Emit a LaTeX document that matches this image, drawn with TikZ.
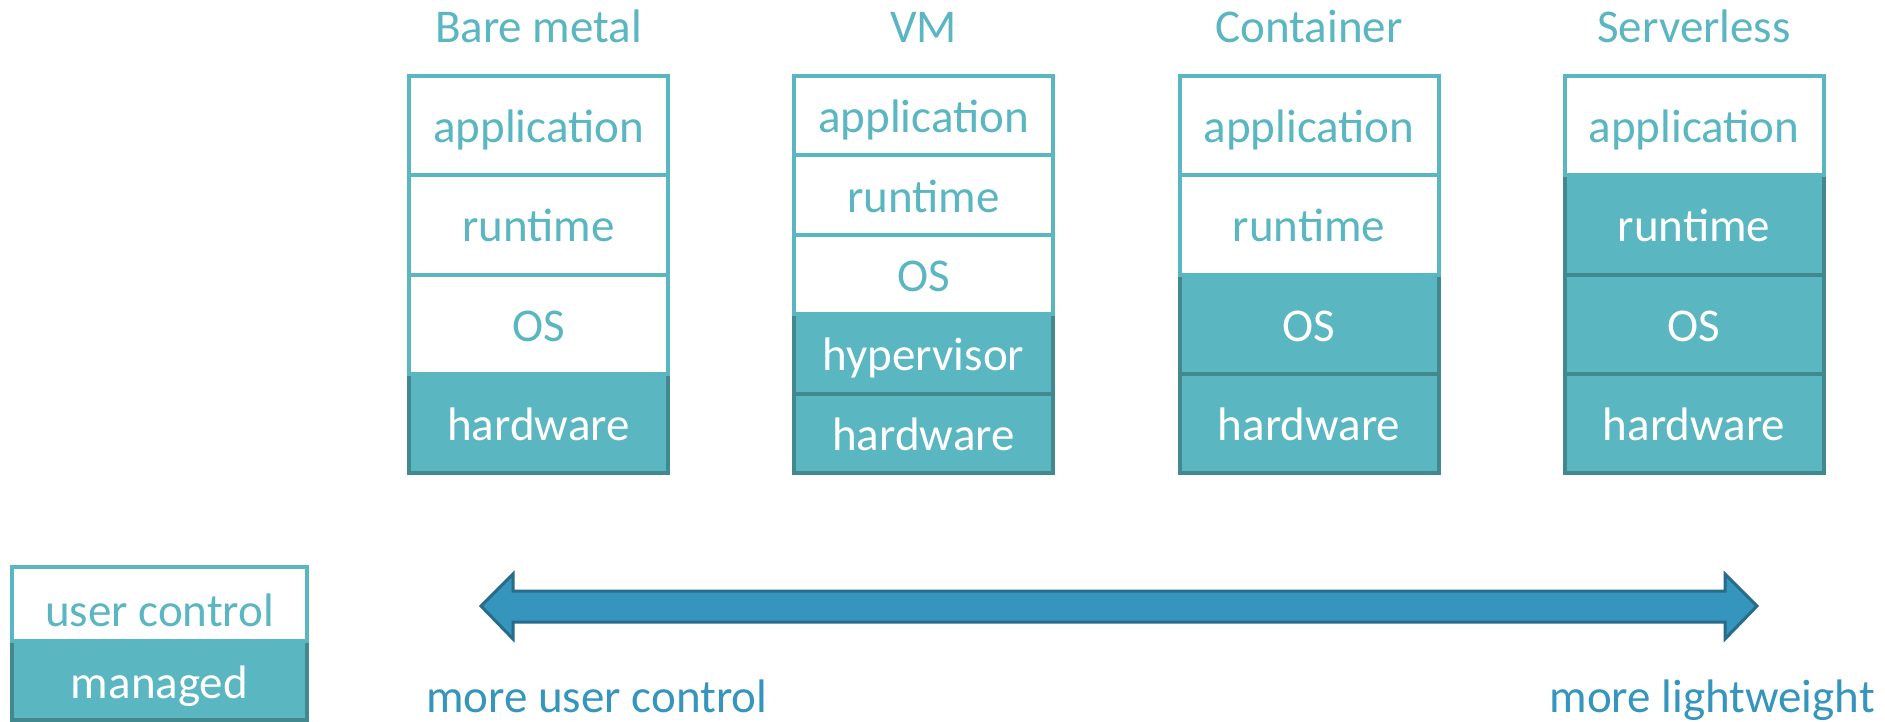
\documentclass[tikz,border=0pt]{standalone}
\usepackage{fontspec}
\setmainfont{Carlito}
\definecolor{stackteal}{HTML}{5AB6C1}
\definecolor{stackdark}{HTML}{41888F}
\definecolor{arrowfill}{HTML}{3595BC}
\definecolor{arrowedge}{HTML}{276C8A}
\tikzset{
  layer/.style={rectangle, minimum width=259pt, inner sep=0pt, outer sep=0pt,
    line width=4pt, text height=42pt, text depth=8pt,
    font=\fontsize{47}{56}\selectfont},
  userbox/.style={layer, draw=stackteal, fill=white, text=stackteal},
  mgdbox/.style={layer, draw=stackdark, fill=stackteal, text=white},
  four/.style={minimum height=99.25pt},
  five/.style={minimum height=79.4pt},
  title/.style={anchor=base, inner sep=0pt, text=stackteal,
    font=\fontsize{47}{56}\selectfont},
  axislabel/.style={inner sep=0pt, text=arrowfill,
    font=\fontsize{47}{56}\selectfont}
}
\begin{document}
\begin{tikzpicture}[x=1pt,y=-1pt]
\useasboundingbox[fill=white] (0,0) rectangle (1885,722);

% column titles
\node[title] (t-bm) at (538.5,43) {Bare metal};
\node[title] (t-vm) at (923.5,43) {VM};
\node[title] (t-ct) at (1309,43) {Container};
\node[title] (t-sl) at (1694,43) {Serverless};

% Bare metal stack (drawn bottom-up so upper borders sit on top)
\node[mgdbox, four]  (bm-hw)  at (538.5,423.4) {hardware};
\node[userbox, four] (bm-os)  at (538.5,324.1) {OS};
\node[userbox, four] (bm-rt)  at (538.5,224.9) {runtime};
\node[userbox, four] (bm-app) at (538.5,125.6) {application};

% VM stack
\node[mgdbox, five]  (vm-hw)  at (923.5,433.3) {hardware};
\node[mgdbox, five]  (vm-hv)  at (923.5,353.9) {hypervisor};
\node[userbox, five] (vm-os)  at (923.5,274.5) {OS};
\node[userbox, five] (vm-rt)  at (923.5,195.1) {runtime};
\node[userbox, five] (vm-app) at (923.5,115.7) {application};

% Container stack
\node[mgdbox, four]  (ct-hw)  at (1309,423.4) {hardware};
\node[mgdbox, four]  (ct-os)  at (1309,324.1) {OS};
\node[userbox, four] (ct-rt)  at (1309,224.9) {runtime};
\node[userbox, four] (ct-app) at (1309,125.6) {application};

% Serverless stack
\node[mgdbox, four]  (sl-hw)  at (1694,423.4) {hardware};
\node[mgdbox, four]  (sl-os)  at (1694,324.1) {OS};
\node[mgdbox, four]  (sl-rt)  at (1694,224.9) {runtime};
\node[userbox, four] (sl-app) at (1694,125.6) {application};

% legend
\node[mgdbox, minimum width=295pt, minimum height=79pt, text height=44pt] (lg-mgd) at (159.5,680.5) {managed};
\node[userbox, minimum width=295pt, minimum height=74pt, text height=52pt] (lg-user) at (159.5,604) {user control};

% double-headed scale arrow
\draw[line width=3pt, draw=arrowedge, fill=arrowfill, line join=miter]
  (481,606) -- (513,574) -- (513,591) -- (1725,591) -- (1725,574) -- (1757,606)
  -- (1725,639) -- (1725,622) -- (513,622) -- (513,639) -- cycle;

% scale labels
\node[axislabel, anchor=base west] (lbl-ctrl) at (426,712) {more user control};
\node[axislabel, anchor=base east] (lbl-light) at (1875,712) {more lightweight};
\end{tikzpicture}
\end{document}
